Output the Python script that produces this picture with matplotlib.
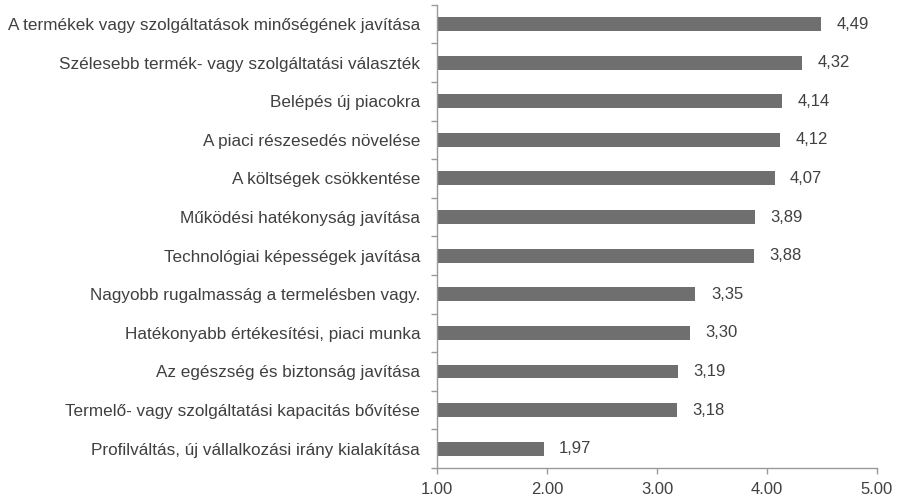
import matplotlib
matplotlib.use("Agg")
import matplotlib.pyplot as plt
from matplotlib.ticker import FixedLocator

plt.rcParams['font.family'] = ['Liberation Sans', 'DejaVu Sans']

categories = [
    "A termékek vagy szolgáltatások minőségének javítása",
    "Szélesebb termék- vagy szolgáltatási választék",
    "Belépés új piacokra",
    "A piaci részesedés növelése",
    "A költségek csökkentése",
    "Működési hatékonyság javítása",
    "Technológiai képességek javítása",
    "Nagyobb rugalmasság a termelésben vagy.",
    "Hatékonyabb értékesítési, piaci munka",
    "Az egészség és biztonság javítása",
    "Termelő- vagy szolgáltatási kapacitás bővítése",
    "Profilváltás, új vállalkozási irány kialakítása",
]
values = [4.49, 4.32, 4.14, 4.12, 4.07, 3.89, 3.88, 3.35, 3.30, 3.19, 3.18, 1.97]
x_ticks = [1.0, 2.0, 3.0, 4.0, 5.0]
x_tick_labels = ["1.00", "2.00", "3.00", "4.00", "5.00"]

bar_color = "#6f6f6f"
text_color = "#404040"
axis_color = "#9a9a9a"

fig = plt.figure(figsize=(8.99, 5.0), dpi=100)
ax = fig.add_axes([0.486, 0.064, 0.4895, 0.9266])

n = len(categories)
ypos = list(range(n))
base = x_ticks[0]
ax.barh(ypos, [v - base for v in values], left=base, height=0.36,
        color=bar_color, edgecolor="none")

for y, v in zip(ypos, values):
    ax.text(v + 0.14, y, f"{v:.2f}".replace(".", ","), va="center", ha="left",
            fontsize=12, color=text_color)

ax.set_xlim(1.0, 5.0)
ax.set_ylim(n - 0.5, -0.5)

ax.set_xticks(x_ticks)
ax.set_xticklabels(x_tick_labels)
ax.set_yticks(ypos)
ax.set_yticklabels(categories)
ax.yaxis.set_minor_locator(FixedLocator([i + 0.5 for i in range(-1, n)]))

ax.tick_params(axis="y", which="major", length=0, pad=12, labelsize=12.3,
               labelcolor=text_color)
ax.tick_params(axis="y", which="minor", length=4, width=1, color=axis_color,
               direction="out")
ax.tick_params(axis="x", which="major", length=4, width=1, color=axis_color,
               pad=6, labelsize=12, labelcolor=text_color)

for side in ("top", "right"):
    ax.spines[side].set_visible(False)
for side in ("left", "bottom"):
    ax.spines[side].set_color(axis_color)
    ax.spines[side].set_linewidth(1)

fig.savefig("out.png", dpi=100)
